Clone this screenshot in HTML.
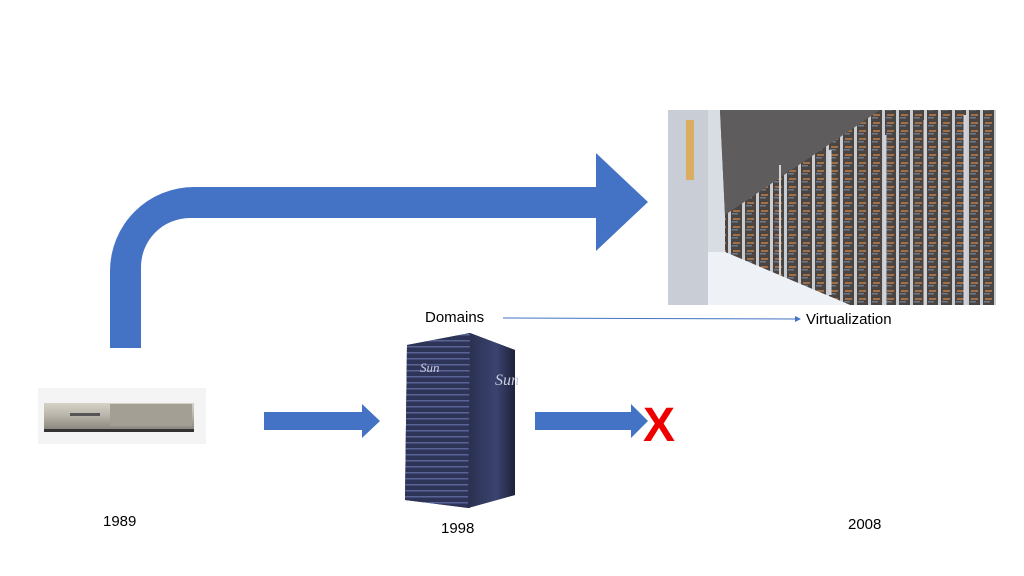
<!DOCTYPE html>
<html><head><meta charset="utf-8"><style>
html,body{margin:0;padding:0;background:#fff;}
body{width:1024px;height:576px;position:relative;overflow:hidden;font-family:"Liberation Sans",sans-serif;}
.t{position:absolute;font-size:15px;color:#000;white-space:nowrap;}
</style></head><body>
<svg width="1024" height="576" style="position:absolute;left:0;top:0">
<defs>
<linearGradient id="srv" x1="0" y1="0" x2="0" y2="1">
<stop offset="0" stop-color="#d6d2c8"/><stop offset="0.5" stop-color="#b8b3a8"/><stop offset="1" stop-color="#8d887f"/>
</linearGradient>
<linearGradient id="tw" x1="0" y1="0" x2="1" y2="0">
<stop offset="0" stop-color="#2a3050"/><stop offset="0.6" stop-color="#3b4470"/><stop offset="1" stop-color="#1e223a"/>
</linearGradient>
<pattern id="slats" width="6" height="6" patternUnits="userSpaceOnUse">
<rect width="6" height="6" fill="#2d3458"/><rect y="4" width="6" height="1.5" fill="#596394"/>
</pattern>
<pattern id="racks" width="14" height="8" patternUnits="userSpaceOnUse">
<rect width="14" height="8" fill="#4a4540"/><rect x="0" width="3" height="8" fill="#c9ccd2"/><rect x="5" y="2" width="7" height="2" fill="#a0704a"/><rect x="4" y="5" width="6" height="1.5" fill="#6f7a90"/>
</pattern>
<clipPath id="dc"><rect x="668" y="110" width="328" height="195"/></clipPath>
</defs>
<path d="M110 348 L110 271 A84 84 0 0 1 194 187 L596 187 L596 153 L648 202 L596 251 L596 218 L190 218 A49 49 0 0 0 141 267 L141 348 Z" fill="#4472c4"/>
<path d="M264 412 L362 412 L362 404 L380 421 L362 438 L362 430 L264 430 Z" fill="#4472c4"/>
<path d="M535 412 L631 412 L631 404 L648 421 L631 438 L631 430 L535 430 Z" fill="#4472c4"/>
<text x="643" y="441" font-family="Liberation Sans,sans-serif" font-size="48" font-weight="bold" fill="#ee0000">X</text>
<line x1="503" y1="318" x2="795" y2="319" stroke="#4472c4" stroke-width="1"/>
<path d="M795 316 L801 319 L795 322 Z" fill="#4472c4"/>
<rect x="38" y="388" width="168" height="56" fill="#f4f4f4"/>
<rect x="44" y="403" width="150" height="26" fill="url(#srv)"/>
<rect x="44" y="429" width="150" height="3" fill="#333"/>
<rect x="70" y="413" width="30" height="3" fill="#555"/>
<rect x="110" y="404" width="82" height="22" fill="#a49f95"/>
<path d="M407 345 L470 333 L515 350 L515 495 L468 508 L405 500 Z" fill="#1f2440"/>
<path d="M407 345 L470 333 L470 508 L405 500 Z" fill="url(#slats)"/>
<path d="M470 333 L515 350 L515 495 L468 508 Z" fill="url(#tw)"/>
<text x="420" y="372" font-family="Liberation Serif,serif" font-style="italic" font-size="13" fill="#c8cce0">Sun</text>
<text x="495" y="385" font-family="Liberation Serif,serif" font-style="italic" font-size="16" fill="#c8cce0">Sun</text>
<g clip-path="url(#dc)">
<rect x="668" y="110" width="328" height="195" fill="#d8dce3"/>
<path d="M720 110 L996 110 L996 305 L850 305 L725 252 L725 215 Z" fill="url(#racks)"/>
<path d="M720 110 L880 110 L725 215 Z" fill="#5e5c5c"/>
<path d="M668 305 L850 305 L725 252 L705 252 Z" fill="#eef1f5"/>
<rect x="668" y="110" width="40" height="195" fill="#c8cdd6"/>
<rect x="686" y="120" width="8" height="60" fill="#e0a030" opacity="0.7"/>
<line x1="780" y1="165" x2="780" y2="275" stroke="#d0d3d8" stroke-width="2"/>
<line x1="830" y1="150" x2="830" y2="295" stroke="#d0d3d8" stroke-width="3"/>
<line x1="885" y1="135" x2="885" y2="305" stroke="#d0d3d8" stroke-width="3"/>
<line x1="925" y1="120" x2="925" y2="305" stroke="#d0d3d8" stroke-width="3"/>
<line x1="965" y1="115" x2="965" y2="305" stroke="#d0d3d8" stroke-width="3"/>
</g>
</svg>
<div class="t" style="left:425px;top:309px;">Domains</div>
<div class="t" style="left:806px;top:311px;">Virtualization</div>
<div class="t" style="left:103px;top:513px;">1989</div>
<div class="t" style="left:441px;top:520px;">1998</div>
<div class="t" style="left:848px;top:516px;">2008</div>
</body></html>
